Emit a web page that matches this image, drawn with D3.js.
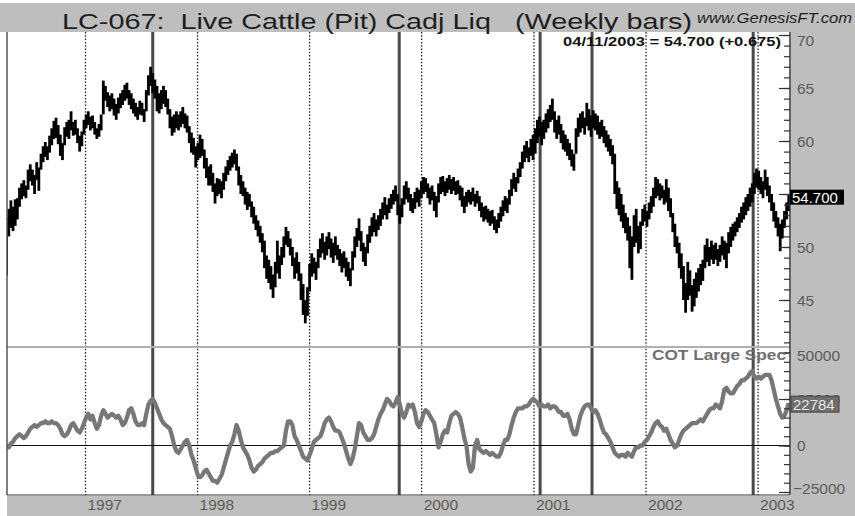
<!DOCTYPE html>
<html>
<head>
<meta charset="utf-8">
<script src="https://cdn.jsdelivr.net/npm/d3@7"></script>
<style>
  body { margin: 0; background: #fff; }
  svg { display: block; font-family: "Liberation Sans", Arial, sans-serif; }
</style>
</head>
<body>
<div id="chart"></div>
<script>
// weekly bars, first bar is the week ending 19 Apr 1996, last one 11 Apr 2003
const firstWeek = new Date(1996, 3, 19);

// weekly low / high of Live Cattle (cents/lb)
const priceLow = [
  47.3, 51.0, 51.8, 51.5, 52.0,  52.6, 53.8, 54.5, 54.8, 54.6,
  55.4, 56.2, 55.8, 55.0, 56.3,  55.3, 57.3, 58.0, 58.5, 58.2,
  58.9, 59.6, 60.2, 60.3, 59.7,  58.6, 58.2, 59.6, 60.4, 60.2,
  61.0, 60.5, 60.6, 59.8, 59.0,  59.5, 60.6, 61.2, 61.5, 61.0,
  61.2, 60.6, 60.2, 60.4, 61.0,  62.5, 63.8, 63.2, 62.8, 63.0,
  62.4, 62.0, 62.6, 63.1, 63.4,  63.8, 64.0, 63.4, 63.0, 62.6,
  62.3, 62.0, 62.5, 62.4, 61.8,  62.8, 64.3, 65.2, 64.5, 64.0,
  62.8, 62.6, 63.0, 63.5, 63.2,  62.5, 61.2, 60.5, 60.8, 61.2,
  61.0, 61.3, 61.6, 61.2, 60.8,  59.8, 58.9, 58.7, 57.5, 58.2,
  58.4, 58.6, 57.4, 56.5, 55.8,  55.8, 55.2, 54.1, 54.8, 55.0,
  54.6, 55.4, 56.2, 56.8, 57.2,  57.5, 57.8, 57.2, 55.8, 55.0,
  54.8, 54.0, 53.5, 53.8, 52.8,  52.2, 51.6, 51.0, 50.4, 49.5,
  48.0, 47.0, 46.6, 46.0, 45.2,  46.2, 47.5, 47.0, 48.3, 49.0,
  50.2, 50.0, 49.2, 48.2, 47.0,  47.5, 46.8, 45.0, 43.6, 42.8,
  43.5, 45.8, 47.2, 47.5, 46.9,  48.0, 49.0, 49.4, 48.8, 49.2,
  49.8, 49.0, 48.5, 49.2, 48.8,  48.2, 47.6, 48.0, 47.2, 46.8,
  46.3, 47.8, 49.0, 50.0, 50.6,  49.6, 48.6, 48.2, 49.4, 50.4,
  51.0, 51.4, 51.0, 51.6, 52.0,  52.6, 53.0, 52.6, 53.2, 53.6,
  54.0, 54.3, 53.0, 52.2, 52.8,  54.0, 54.5, 54.2, 53.4, 53.2,
  53.6, 54.2, 53.8, 54.6, 55.0,  55.2, 54.6, 54.0, 54.4, 53.4,
  52.8, 54.2, 55.0, 55.2, 54.8,  55.1, 55.4, 55.0, 55.3, 54.9,
  55.0, 54.4, 53.8, 53.2, 53.8,  54.2, 54.0, 54.3, 53.8, 54.1,
  53.4, 52.8, 52.4, 52.6, 52.3,  52.0, 52.2, 51.6, 51.3, 51.8,
  52.4, 52.9, 53.4, 53.2, 54.0,  54.8, 55.5, 55.2, 56.0, 56.6,
  57.4, 58.0, 58.4, 58.0, 58.6,  58.2, 58.8, 59.8, 60.4, 59.6,
  60.2, 60.8, 61.2, 61.8, 62.0,  60.8, 60.2, 60.6, 59.8, 59.2,
  59.0, 58.6, 58.2, 57.6, 57.2,  58.8, 60.4, 60.8, 61.2, 60.6,
  61.4, 61.0, 60.4, 61.2, 61.0,  60.6, 60.2, 60.4, 59.8, 59.4,
  59.0, 58.6, 57.8, 55.0, 53.6,  53.0, 52.4, 51.8, 51.3, 50.6,
  48.0, 46.9, 50.0, 50.4, 49.4,  49.8, 52.0, 52.4, 51.9, 52.6,
  53.2, 53.8, 54.6, 54.8, 54.4,  54.6, 54.0, 54.2, 53.4, 52.8,
  51.4, 50.0, 49.4, 48.0, 47.0,  45.0, 43.8, 45.0, 45.4, 43.9,
  44.4, 45.2, 45.8, 46.4, 46.8,  48.0, 48.6, 48.2, 48.8, 48.4,
  48.8, 48.2, 48.6, 49.2, 48.8,  48.0, 49.4, 50.0, 50.6, 51.0,
  51.4, 51.8, 52.3, 52.6, 53.0,  53.4, 53.8, 54.2, 55.0, 55.6,
  55.4, 55.0, 54.6, 55.4, 54.8,  54.2, 53.4, 52.4, 51.8, 51.0,
  49.6, 50.8, 51.8, 52.6, 53.4
];

const priceHigh = [
  52.8, 53.6, 54.4, 53.8, 54.5,  54.6, 55.6, 56.0, 56.3, 55.8,
  57.3, 57.8, 57.3, 56.8, 58.0,  57.5, 58.8, 59.5, 59.9, 59.5,
  60.5, 61.2, 61.9, 62.2, 61.5,  60.6, 59.8, 61.3, 61.8, 62.0,
  62.8, 61.8, 62.0, 61.2, 60.5,  60.9, 62.0, 62.5, 62.8, 62.3,
  62.4, 61.8, 61.2, 61.6, 62.5,  65.7, 65.2, 64.6, 64.3, 64.5,
  64.0, 63.5, 64.1, 64.5, 64.8,  65.3, 65.5, 64.8, 64.5, 64.0,
  63.6, 63.2, 63.8, 63.6, 63.0,  64.8, 66.2, 67.0, 66.4, 65.8,
  65.2, 64.5, 64.8, 65.2, 64.8,  64.0, 63.0, 62.3, 62.5, 62.8,
  62.5, 62.8, 63.2, 62.6, 62.4,  61.4, 60.8, 60.3, 59.5, 59.8,
  60.6, 60.2, 59.2, 58.4, 57.6,  57.8, 57.0, 56.0, 56.5, 56.4,
  56.2, 57.0, 57.6, 58.2, 58.6,  58.9, 59.2, 58.8, 57.6, 56.8,
  56.2, 55.6, 55.2, 55.0, 54.3,  53.8, 53.0, 52.5, 52.0, 51.3,
  50.6, 49.2, 48.8, 48.2, 47.4,  48.6, 50.6, 49.2, 50.0, 51.0,
  51.9, 51.5, 50.8, 50.0, 49.0,  49.5, 48.6, 47.5, 46.5, 45.0,
  46.2, 48.4, 49.4, 49.0, 48.6,  49.8, 50.8, 51.3, 50.5, 51.0,
  51.4, 50.8, 50.4, 51.0, 50.2,  49.8, 49.4, 49.6, 49.0, 48.6,
  48.0, 49.6, 51.0, 51.8, 52.7,  51.5, 50.4, 50.0, 51.2, 52.0,
  52.8, 53.2, 52.6, 53.0, 53.6,  54.2, 54.7, 54.0, 54.6, 55.0,
  55.4, 55.8, 55.0, 54.0, 54.6,  55.8, 56.2, 55.6, 55.0, 54.6,
  55.2, 55.6, 55.4, 56.2, 56.6,  56.5, 56.0, 55.6, 55.8, 55.2,
  54.8, 56.0, 56.6, 56.7, 56.2,  56.5, 56.8, 56.4, 56.6, 56.2,
  56.3, 55.8, 55.6, 54.8, 55.2,  55.4, 55.2, 55.6, 55.0, 55.3,
  54.8, 54.2, 53.8, 53.9, 53.6,  53.4, 53.5, 52.9, 52.6, 53.2,
  53.8, 54.4, 54.8, 54.6, 55.4,  56.4, 57.0, 56.6, 57.4, 58.0,
  59.0, 59.6, 60.0, 59.4, 60.2,  60.6, 61.2, 62.0, 62.3, 61.8,
  62.0, 62.6, 63.0, 63.4, 64.0,  62.8, 62.0, 62.4, 61.6, 61.0,
  60.6, 60.2, 59.8, 59.2, 58.8,  61.2, 62.2, 62.6, 62.8, 62.2,
  63.6, 63.0, 62.4, 62.9, 62.6,  62.4, 61.8, 62.0, 61.4, 61.0,
  60.6, 60.2, 59.6, 58.8, 56.2,  55.6, 55.0, 54.0, 53.2, 52.8,
  52.0, 51.0, 53.0, 53.6, 52.0,  52.4, 53.6, 54.0, 53.4, 54.2,
  54.8, 55.6, 56.6, 56.4, 56.0,  55.8, 55.4, 56.4, 55.6, 54.6,
  53.2, 52.2, 51.0, 50.4, 49.4,  48.2, 46.6, 48.6, 47.8, 46.4,
  47.0, 47.6, 48.0, 48.4, 48.8,  50.2, 50.8, 50.0, 50.6, 50.2,
  50.4, 49.8, 50.2, 51.0, 50.6,  50.4, 51.4, 51.9, 52.2, 52.4,
  52.8, 53.2, 53.8, 54.2, 54.7,  55.0, 55.6, 56.0, 57.0, 57.4,
  57.2, 56.6, 56.2, 57.3, 56.6,  55.8, 55.0, 54.2, 53.4, 52.8,
  52.2, 52.6, 53.4, 54.2, 55.0
];

// COT large speculators net position, thousands of contracts, same weeks
const cotNet = [
   0, -1,  1,  2,  4,    5,  6,  5,  4,  5,
   7,  9, 10, 11, 10,   11, 12, 12, 13, 12,
  12, 13, 12, 12, 11,    9,  6,  5,  6,  8,
  11, 12, 10,  8,  7,    9, 12, 15, 17, 14,
  16, 12,  9, 11, 16,   19, 17, 15, 16, 17,
  16, 15, 16, 14, 11,   12, 15, 19, 20, 17,
  13, 11, 11, 12, 11,   17, 22, 24, 25, 23,
  20, 17, 14, 12, 11,   10,  9,  5,  0, -3,
  -4, -2,  0,  2,  3,    0, -5, -8,-12,-16,
 -17,-16,-14,-13,-15,  -17,-19,-19,-20,-18,
 -16,-12, -8, -4,  0,    2,  6, 11,  8,  3,
  -1, -3, -5, -8,-12,  -14,-13,-11,-10, -9,
  -7, -6, -5, -4, -4,   -3, -3, -2, -1,  0,
   8, 13, 13, 11,  5,    3,  0, -3, -6, -7,
  -8, -5, -2,  2,  3,    4,  5,  8, 12, 14,
  15, 13, 10,  8,  8,    7,  4,  1, -3, -7,
 -10, -7, -2,  5, 12,   11,  7,  5,  3,  3,
   4,  6, 10, 14, 17,   19, 22, 25, 24, 22,
  21, 23, 26, 22, 17,   15, 18, 22, 21, 22,
  18, 12, 10, 13, 17,   19, 18, 16, 14, 12,
   6, -1,  2,  6,  8,    7, 12, 16, 17, 18,
  17, 15, 10,  4,  0,  -10,-14,-12,  0,  3,
  -2, -3, -4, -3, -4,   -5, -4, -5, -6, -6,
  -4,  0,  3,  3,  6,   11, 15, 18, 20, 20,
  20, 21, 21, 22, 24,   25, 24, 23, 21, 22,
  21, 21, 22, 20, 21,   21, 20, 18, 18, 16,
  16, 17, 14,  9,  6,    6, 11, 16, 19, 21,
  22, 22, 20, 18, 19,   17, 14, 10,  7,  6,
   4,  2, -1, -4, -5,   -6, -5, -5, -6, -4,
  -5, -6, -3, -1, -1,    0,  0,  2,  3,  5,
   7, 10, 12, 13, 11,   10,  8,  9,  6,  3,
   1, -1,  0,  3,  6,    8,  9, 10, 11, 12,
  12, 12, 13, 14, 13,   15, 17, 19, 20, 20,
  22, 21, 20, 24, 30,   31, 29, 28, 28, 30,
  32, 33, 35, 35, 36,   37, 39, 40, 37, 36,
  37, 36, 37, 38, 38,   38, 35, 30, 25, 21,
  17, 15, 16, 19, 22.784
];

const yearLabels = ['1997', '1998', '1999', '2000', '2001', '2002', '2003'];
const priceTicks = [70, 65, 60, 55, 50, 45];
// 55 sits under the last-price box, so it carries no label
const priceLabels = [70, 65, 60, 50, 45];
const cotTicks = [50, 25, 0, -25];
// dates of the solid marker lines
const signalDates = ['1997-08-08', '1999-10-20', '2001-01-21', '2001-07-09', '2002-12-16'];

const lastClose = 54.7;
const lastChange = 0.675;
const lastCot = 22784;

const width = 855;
const height = 516;
const plot = { left: 7, right: 790, top: 32, split: 347, bottom: 495 };
const panelGrey = '#bebebe';
const labelGrey = '#5c5c5c';

const weeks = priceLow.map((lo, i) => ({
  date: d3.timeWeek.offset(firstWeek, i),
  lo: lo,
  hi: priceHigh[i],
  cot: cotNet[i]
}));

const svg = d3.select('#chart')
  .append('svg')
  .attr('width', width)
  .attr('height', height);

// scales
const x = d3.scaleTime()
  .domain([new Date(1996, 3, 17), new Date(2003, 3, 15)])
  .range([6, plot.right]);

const yPrice = d3.scaleLinear()
  .domain([45, 70])
  .range([300, 35]);

const yCot = d3.scaleLinear()
  .domain([0, 50])
  .range([445.5, 352.5]);

// grey frame
svg.append('rect').attr('width', width).attr('height', height).attr('fill', '#fff');
svg.append('rect').attr('x', 0).attr('y', 3).attr('width', width).attr('height', plot.top - 3).attr('fill', panelGrey);
svg.append('rect').attr('x', plot.right + 1).attr('y', 3).attr('width', width - plot.right - 1).attr('height', height - 3).attr('fill', panelGrey);
svg.append('rect').attr('x', plot.left).attr('y', plot.bottom + 1).attr('width', width - plot.left).attr('height', height - plot.bottom - 1).attr('fill', panelGrey);

const defs = svg.append('defs');
defs.append('clipPath').attr('id', 'clip-top')
  .append('rect').attr('x', plot.left).attr('y', plot.top)
  .attr('width', plot.right - plot.left).attr('height', plot.split - plot.top);
defs.append('clipPath').attr('id', 'clip-bottom')
  .append('rect').attr('x', plot.left).attr('y', plot.split + 1)
  .attr('width', plot.right - plot.left).attr('height', plot.bottom - plot.split - 1);

// year separators (dotted)
svg.append('g')
  .selectAll('line').data(yearLabels).join('line')
  .attr('x1', (d) => x(new Date(+d, 0, 1)))
  .attr('x2', (d) => x(new Date(+d, 0, 1)))
  .attr('y1', plot.top)
  .attr('y2', plot.bottom)
  .attr('stroke', '#222')
  .attr('stroke-width', 1.3)
  .attr('stroke-dasharray', '1.5,1.8');

// solid marker lines
svg.append('g')
  .selectAll('line').data(signalDates).join('line')
  .attr('x1', (d) => x(new Date(d)))
  .attr('x2', (d) => x(new Date(d)))
  .attr('y1', plot.top)
  .attr('y2', plot.bottom)
  .attr('stroke', '#4a4a4a')
  .attr('stroke-width', 3);

// panel separator and zero line
svg.append('line')
  .attr('x1', plot.left).attr('x2', plot.right)
  .attr('y1', plot.split).attr('y2', plot.split)
  .attr('stroke', '#b0b0b0').attr('stroke-width', 2);

svg.append('line')
  .attr('x1', plot.left).attr('x2', plot.right)
  .attr('y1', yCot(0)).attr('y2', yCot(0))
  .attr('stroke', '#111').attr('stroke-width', 1.2);

// weekly bars
svg.append('g')
  .attr('clip-path', 'url(#clip-top)')
  .selectAll('line').data(weeks).join('line')
  .attr('x1', (d) => x(d.date))
  .attr('x2', (d) => x(d.date))
  .attr('y1', (d) => yPrice(d.lo))
  .attr('y2', (d) => yPrice(d.hi))
  .attr('stroke', '#000')
  .attr('stroke-width', 2.8);

// COT line
const cotLine = d3.line()
  .x((d) => x(d.date))
  .y((d) => yCot(d.cot));

svg.append('path')
  .datum(weeks)
  .attr('clip-path', 'url(#clip-bottom)')
  .attr('d', cotLine)
  .attr('fill', 'none')
  .attr('stroke', '#777')
  .attr('stroke-width', 4.3)
  .attr('stroke-linejoin', 'round');

// plot borders
svg.append('line')
  .attr('x1', plot.left).attr('x2', plot.left)
  .attr('y1', plot.top).attr('y2', plot.bottom)
  .attr('stroke', '#555').attr('stroke-width', 1.5);
svg.append('line')
  .attr('x1', plot.left).attr('x2', plot.right)
  .attr('y1', plot.bottom).attr('y2', plot.bottom)
  .attr('stroke', '#333').attr('stroke-width', 1.2);
svg.append('line')
  .attr('x1', plot.right).attr('x2', plot.right)
  .attr('y1', plot.top).attr('y2', plot.bottom)
  .attr('stroke', '#333').attr('stroke-width', 1.5);

// right axis ticks (pointing into the plot)
function tickAxis(scale, values, size) {
  const g = svg.append('g')
    .attr('transform', `translate(${plot.right}, 0)`)
    .call(d3.axisLeft(scale).tickValues(values).tickSize(size).tickSizeOuter(0).tickFormat(''));
  g.select('.domain').remove();
  g.selectAll('line').attr('stroke', '#333').attr('stroke-width', 1.2);
}

tickAxis(yPrice, d3.range(41, 71, 1), 6);
tickAxis(yPrice, priceTicks, 11);
tickAxis(yCot, d3.range(-25, 51, 5), 6);
tickAxis(yCot, cotTicks, 11);

// right axis labels
svg.append('g')
  .selectAll('text').data(priceLabels).join('text')
  .attr('x', 797)
  .attr('y', (d) => Math.max(yPrice(d), 40))
  .attr('dy', '0.36em')
  .attr('font-size', 15.5)
  .attr('fill', labelGrey)
  .text((d) => d);

svg.append('g')
  .selectAll('text').data(cotTicks).join('text')
  .attr('x', (d) => (d < 0 ? 793 : 797))
  .attr('y', (d) => Math.min(Math.max(yCot(d), 355), 488))
  .attr('dy', '0.36em')
  .attr('font-size', 15.5)
  .attr('fill', labelGrey)
  .text((d) => d3.format('d')(d * 1000));

// year labels
svg.append('g')
  .selectAll('text').data(yearLabels).join('text')
  .attr('x', (d) => x(new Date(+d, 0, 1)) + 2)
  .attr('y', 510)
  .attr('font-size', 15.5)
  .attr('fill', labelGrey)
  .text((d) => d);

// last value boxes
const priceBox = svg.append('g').attr('transform', `translate(${plot.right}, ${yPrice(lastClose)})`);
priceBox.append('rect').attr('x', 0).attr('y', -7.5).attr('width', 54).attr('height', 15).attr('fill', '#000');
priceBox.append('text').attr('x', 2).attr('dy', '0.36em').attr('font-size', 15)
  .attr('fill', '#fff').text(d3.format('.3f')(lastClose));

const cotBox = svg.append('g').attr('transform', `translate(${plot.right + 1}, ${yCot(lastCot / 1000) + 1})`);
cotBox.append('rect').attr('x', 0).attr('y', -8).attr('width', 48).attr('height', 16)
  .attr('fill', '#6e6e6e').attr('stroke', '#444');
cotBox.append('text').attr('x', 2).attr('dy', '0.36em').attr('font-size', 15)
  .attr('fill', '#e4e4e4').text(lastCot);

// titles
svg.append('text')
  .attr('x', 62).attr('y', 29)
  .attr('font-size', 22.5)
  .attr('fill', '#1e1e1e')
  .attr('textLength', 630)
  .attr('lengthAdjust', 'spacingAndGlyphs')
  .style('white-space', 'pre')
  .text('LC-067:  Live Cattle (Pit) Cadj Liq   (Weekly bars)');

svg.append('text')
  .attr('x', 697).attr('y', 23)
  .attr('font-size', 14)
  .attr('font-style', 'italic')
  .attr('fill', '#1e1e1e')
  .attr('textLength', 155)
  .attr('lengthAdjust', 'spacingAndGlyphs')
  .text('www.GenesisFT.com');

svg.append('text')
  .attr('x', 563).attr('y', 46)
  .attr('font-size', 13.5)
  .attr('font-weight', 'bold')
  .attr('fill', '#111')
  .attr('textLength', 218)
  .attr('lengthAdjust', 'spacingAndGlyphs')
  .text(`04/11/2003 = ${d3.format('.3f')(lastClose)} (+${d3.format('.3f')(lastChange)})`);

svg.append('text')
  .attr('x', 652).attr('y', 360)
  .attr('font-size', 14)
  .attr('font-weight', 'bold')
  .attr('fill', '#707070')
  .attr('textLength', 134)
  .attr('lengthAdjust', 'spacingAndGlyphs')
  .text('COT Large Spec');
</script>
</body>
</html>
